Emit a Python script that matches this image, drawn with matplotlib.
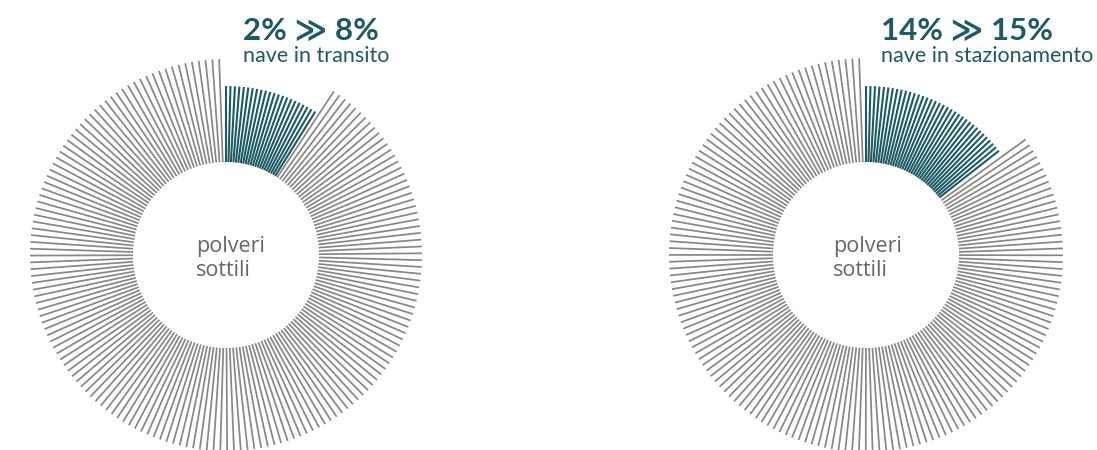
import matplotlib
matplotlib.use("Agg")
import matplotlib.pyplot as plt
import numpy as np

# values
share_from = [2, 14]            # % before
share_to = [8, 15]              # % after
subtitles = ["nave in transito", "nave in stazionamento"]
center_label = ["polveri", "sottili"]

teal_end_deg = [31.9, 51.9]     # sweep of the highlighted lines
n_teal = [22, 35]
gray_start_deg = [33.4, 54.1]
gray_end_deg = [358.0, 358.0]
n_gray = [163, 153]
r_inner = 93
r_teal = [169, 169]
r_gray = [196, 197]

TEAL = "#1c5a64"
GRAY = "#878787"
TEXT_GRAY = "#666666"
FONT = ["Lato", "DejaVu Sans"]
FONT_CENTER = ["Open Sans", "DejaVu Sans"]

W, H = 1097, 450
fig = plt.figure(figsize=(W / 100, H / 100), dpi=100)

centers = [(226, 255), (866, 255)]   # pixel centres of the two rings
R = 200                              # radius of polar axes in px
text_x = [243, 881]
center_text_x = [196, 833]

for i, (cx, cy) in enumerate(centers):
    ax = fig.add_axes([(cx - R) / W, (H - cy - R) / H, 2 * R / W, 2 * R / H],
                      projection="polar")
    ax.set_theta_zero_location("N")
    ax.set_theta_direction(-1)
    ax.set_ylim(0, R)
    ax.axis("off")

    th_teal = np.deg2rad(np.linspace(0, teal_end_deg[i], n_teal[i]))
    th_gray = np.deg2rad(np.linspace(gray_start_deg[i], gray_end_deg[i], n_gray[i]))
    ax.vlines(th_gray, r_inner, r_gray[i], color=GRAY, lw=1.25, capstyle="butt")
    ax.vlines(th_teal, r_inner, r_teal[i], color=TEAL, lw=1.5, capstyle="butt")

    for k, line in enumerate(center_label):
        fig.text(center_text_x[i] / W, 1 - (252 + 23.5 * k) / H, line,
                 color=TEXT_GRAY, fontsize=15.5, family=FONT_CENTER,
                 ha="left", va="baseline")

    fig.text(text_x[i] / W, 1 - 40 / H, f"{share_from[i]}% \u226b {share_to[i]}%",
             color=TEAL, fontsize=22.5, fontweight="bold", family=FONT,
             ha="left", va="baseline")
    fig.text(text_x[i] / W, 1 - 62 / H, subtitles[i], color=TEAL,
             fontsize=15.5, family=FONT, ha="left", va="baseline")

fig.savefig("out.png", dpi=100)
